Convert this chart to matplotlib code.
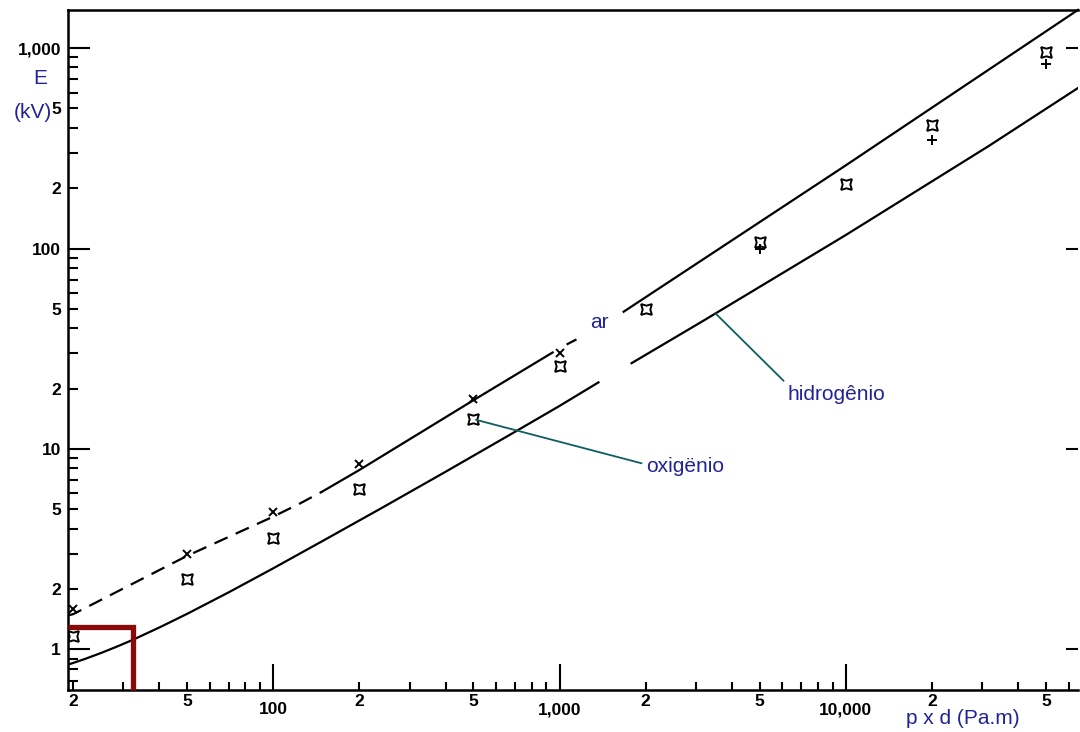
import math
import matplotlib
matplotlib.use("Agg")
import matplotlib.pyplot as plt
from matplotlib.ticker import LogLocator, FuncFormatter, NullFormatter

# ---------------- data ----------------
# "ar" curve (upper): dashed part, solid part, short dash, solid part
ar_dash_x = [19.2, 20, 50, 100, 124, 148]
ar_dash_E = [1.48, 1.50, 2.93, 4.6, 5.35, 6.12]
ar_solid1_x = [148, 200, 300, 500, 946]
ar_solid1_E = [6.12, 7.86, 11.2, 17.5, 30.3]
ar_bit_x = [1067, 1137]
ar_bit_E = [33.4, 35.0]
ar_solid2_x = [1675, 10000, 64700]
ar_solid2_E = [48.4, 260, 1550]

# "hidrogênio" curve (lower)
h2_seg1_x = [19.2, 22, 25.1, 28, 32, 40, 50, 70, 100, 150, 237, 400, 685,
             1000, 1368]
h2_seg1_E = [0.84, 0.897, 0.962, 1.024, 1.11, 1.287, 1.505, 1.93, 2.54,
             3.50, 5.04, 7.70, 11.98, 16.4, 21.5]
h2_seg2_x = [1785, 3160, 10000, 31600, 64700]
h2_seg2_E = [26.8, 43.4, 116.8, 325, 632]

# "oxigënio" measured points
ox_x = [20, 50, 100, 200, 500, 1000, 2000, 5000, 10000, 20000, 50000]
ox_E = [1.17, 2.26, 3.59, 6.3, 14.1, 26, 50, 108, 211, 415, 955]

# secondary small marks
mk_x = [20, 50, 100, 200, 500, 1000]
mk_E = [1.60, 2.99, 4.84, 8.4, 17.8, 30]
pl_x = [5000, 20000, 50000]
pl_E = [100, 347, 830]

# red box corner
box_x = 32.3
box_E = 1.30

# ---------------- figure ----------------
W, H = 1080, 732
fig = plt.figure(figsize=(W / 100, H / 100), dpi=100)
ax = fig.add_axes([68 / W, 42 / H, 1010 / W, 680 / H])
ax.set_xscale("log")
ax.set_yscale("log")
XMIN, XMAX = 19.2, 64700
YMIN, YMAX = 0.628, 1548
ax.set_xlim(XMIN, XMAX)
ax.set_ylim(YMIN, YMAX)

lw = 1.6
ax.plot(ar_dash_x, ar_dash_E, color="black", lw=lw, linestyle=(0, (6.5, 4)))
ax.plot(ar_solid1_x, ar_solid1_E, color="black", lw=lw)
ax.plot(ar_bit_x, ar_bit_E, color="black", lw=lw)
ax.plot(ar_solid2_x, ar_solid2_E, color="black", lw=lw, clip_on=False)
ax.plot(h2_seg1_x, h2_seg1_E, color="black", lw=lw)
ax.plot(h2_seg2_x, h2_seg2_E, color="black", lw=lw)

ax.plot(ox_x, ox_E, linestyle="none", marker=(4, 1, 45), markersize=11,
        markerfacecolor="none", markeredgecolor="black", markeredgewidth=1.4)
ax.plot(mk_x, mk_E, linestyle="none", marker="x", markersize=5.5,
        color="black", markeredgewidth=1.4)
ax.plot(pl_x, pl_E, linestyle="none", marker="+", markersize=6.5,
        color="black", markeredgewidth=1.4)

# red box
ax.plot([XMIN, box_x, box_x], [box_E, box_E, YMIN], color="#8a0a0a", lw=3.8,
        solid_joinstyle="miter", solid_capstyle="butt", clip_on=False, zorder=5)

# ---------------- axes styling ----------------
for s in ["left", "bottom", "top"]:
    ax.spines[s].set_linewidth(1.8)
ax.spines["right"].set_visible(False)

ax.xaxis.set_major_locator(LogLocator(base=10, subs=(1.0,)))
ax.xaxis.set_minor_locator(LogLocator(base=10, subs=tuple(range(2, 10))))
ax.yaxis.set_major_locator(LogLocator(base=10, subs=(1.0,)))
ax.yaxis.set_minor_locator(LogLocator(base=10, subs=tuple(range(2, 10))))


def major_fmt(v, pos):
    return f"{int(round(v)):,}"


def minor_fmt(v, pos):
    m = int(round(v / 10 ** math.floor(math.log10(v) + 1e-9)))
    return str(m) if m in (2, 5) else ""


ax.xaxis.set_major_formatter(FuncFormatter(major_fmt))
ax.yaxis.set_major_formatter(FuncFormatter(major_fmt))
ax.xaxis.set_minor_formatter(FuncFormatter(minor_fmt))
ax.yaxis.set_minor_formatter(FuncFormatter(minor_fmt))

ax.tick_params(axis="both", which="both", direction="in", top=False,
               right=False, width=1.5, colors="black")
ax.tick_params(axis="y", which="major", length=16, pad=5)
ax.tick_params(axis="y", which="minor", length=7, pad=5)
ax.tick_params(axis="x", which="major", length=19, pad=9)
ax.tick_params(axis="x", which="minor", length=6, pad=3)
for lab in ax.get_xticklabels(which="both") + ax.get_yticklabels(which="both"):
    lab.set_fontfamily("Liberation Sans")
    lab.set_fontsize(12.5)
    lab.set_fontweight("bold")

# right-side short major ticks
ax2 = ax.twinx()
ax2.set_yscale("log")
ax2.set_ylim(YMIN, YMAX)
ax2.yaxis.set_major_locator(LogLocator(base=10, subs=(1.0,)))
ax2.yaxis.set_minor_locator(LogLocator(base=10, subs=()))
ax2.yaxis.set_major_formatter(NullFormatter())
ax2.tick_params(axis="y", which="major", direction="in", length=9, width=1.5)
for s in ax2.spines.values():
    s.set_visible(False)

# ---------------- labels ----------------
blue = "#22229a"
teal = "#0d5f5f"
tfont = dict(family="Liberation Sans", size=15, color=blue)

fig.text(40 / W, 1 - 78 / H, "E", ha="center", va="center", **tfont)
fig.text(33 / W, 1 - 113 / H, "(kV)", ha="center", va="center", **tfont)
fig.text(963 / W, 1 - 719 / H, "p x d (Pa.m)", ha="center", va="center", **tfont)

ax.text(1380, 42.7, "ar", ha="center", va="center", **tfont)

ax.annotate("oxigënio", xy=(ox_x[4], ox_E[4]), xytext=(2000, 8.2),
            ha="left", va="center", **tfont,
            arrowprops=dict(arrowstyle="-", color=teal, lw=1.3,
                            relpos=(0, 0.6), shrinkA=1, shrinkB=2))
ax.annotate("hidrogênio", xy=(3510, 47.4), xytext=(6250, 18.8),
            ha="left", va="center", **tfont,
            arrowprops=dict(arrowstyle="-", color=teal, lw=1.3,
                            relpos=(0, 1), shrinkA=1, shrinkB=0))

fig.savefig("out.png", dpi=100, facecolor="white")
